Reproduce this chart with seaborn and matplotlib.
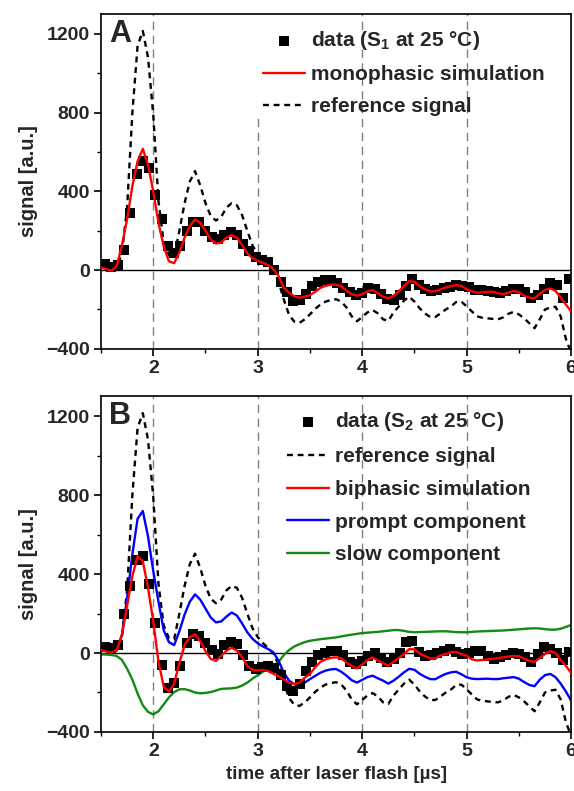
import matplotlib
matplotlib.use("Agg")
import matplotlib.pyplot as plt
import numpy as np
import seaborn as sns
from matplotlib.ticker import MultipleLocator

# time grid of the simulated / reference curves [µs]
t_line = [
    1.50, 1.55, 1.60, 1.65, 1.70, 1.75, 1.80, 1.85, 1.90, 1.95,
    2.00, 2.05, 2.10, 2.15, 2.20, 2.25, 2.30, 2.35, 2.40, 2.45,
    2.50, 2.55, 2.60, 2.65, 2.70, 2.75, 2.80, 2.85, 2.90, 2.95,
    3.00, 3.05, 3.10, 3.15, 3.20, 3.25, 3.30, 3.35, 3.40, 3.45,
    3.50, 3.55, 3.60, 3.65, 3.70, 3.75, 3.80, 3.85, 3.90, 3.95,
    4.00, 4.05, 4.10, 4.15, 4.20, 4.25, 4.30, 4.35, 4.40, 4.45,
    4.50, 4.55, 4.60, 4.65, 4.70, 4.75, 4.80, 4.85, 4.90, 4.95,
    5.00, 5.05, 5.10, 5.15, 5.20, 5.25, 5.30, 5.35, 5.40, 5.45,
    5.50, 5.55, 5.60, 5.65, 5.70, 5.75, 5.80, 5.85, 5.90, 5.95,
    6.00,
]

reference_signal = [
    20, 12, 5, 12, 85, 320, 800, 1140, 1215, 1080,
    790, 350, 140, 75, 70, 200, 340, 450, 503, 430,
    340, 275, 252, 270, 317, 340, 330, 280, 200, 125,
    81, 50, 25, -3, -60, -150, -228, -262, -268, -250,
    -225, -197, -175, -160, -152, -148, -160, -190, -235, -260,
    -238, -215, -203, -220, -250, -258, -215, -185, -155, -135,
    -160, -194, -220, -238, -238, -220, -200, -185, -162, -160,
    -185, -210, -235, -242, -245, -248, -250, -240, -222, -212,
    -225, -245, -270, -295, -250, -200, -190, -186, -235, -350,
    -420,
]

monophasic = [
    14, 5, -3, 20, 125, 260, 427, 553, 616, 535,
    400, 240, 120, 45, 35, 90, 165, 225, 258, 240,
    200, 155, 135, 140, 165, 178, 165, 128, 85, 60,
    47, 38, 25, 5, -30, -90, -115, -133, -140, -135,
    -127, -110, -90, -80, -74, -74, -81, -105, -122, -130,
    -122, -108, -101, -118, -135, -143, -130, -108, -80, -56,
    -60, -80, -98, -108, -108, -98, -88, -82, -76, -80,
    -98, -108, -115, -113, -110, -110, -118, -122, -114, -106,
    -112, -130, -140, -143, -120, -101, -93, -105, -140, -175,
    -211,
]

biphasic = [
    15, 8, 2, 15, 91, 240, 390, 490, 465, 330,
    160, -44, -170, -196, -155, -50, 40, 80, 95, 60,
    10, -30, -40, -15, 12, 27, 12, -20, -65, -85,
    -88, -86, -92, -105, -118, -135, -150, -157, -150, -125,
    -106, -72, -45, -32, -24, -22, -27, -48, -66, -78,
    -58, -36, -22, -38, -52, -64, -45, -25, -5, 20,
    18, -2, -15, -28, -28, -12, -5, 5, 5, -5,
    -14, -32, -38, -35, -32, -30, -26, -22, -18, -15,
    -16, -28, -40, -45, -25, -5, 10, 0, -35, -65,
    -101,
]

prompt = [
    15, 10, 7, 15, 91, 280, 500, 680, 719, 590,
    415, 260, 115, 55, 40, 110, 195, 260, 297, 270,
    225, 180, 155, 160, 184, 205, 190, 150, 105, 72,
    49, 33, 20, 3, -40, -100, -140, -158, -160, -150,
    -132, -116, -100, -89, -83, -81, -95, -115, -138, -150,
    -136, -122, -115, -128, -140, -155, -140, -120, -98, -80,
    -85, -105, -120, -132, -133, -118, -106, -98, -95, -108,
    -123, -130, -132, -131, -130, -132, -132, -128, -125, -122,
    -130, -147, -162, -168, -135, -112, -106, -122, -155, -195,
    -241,
]

slow = [
    -7, -8, -10, -15, -35, -80, -135, -205, -265, -298,
    -311, -295, -260, -225, -198, -184, -183, -190, -200, -204,
    -202, -198, -190, -182, -180, -179, -175, -165, -150, -130,
    -112, -95, -80, -65, -45, -10, 15, 33, 45, 55,
    62, 66, 70, 73, 76, 79, 84, 89, 93, 97,
    101, 103, 105, 107, 110, 113, 116, 116, 112, 107,
    105, 106, 107, 108, 109, 110, 110, 108, 106, 105,
    105, 107, 109, 110, 111, 112, 113, 114, 116, 118,
    120, 122, 124, 125, 124, 121, 118, 118, 123, 132,
    142,
]

# sampling times of the measured points [µs]
t_data = [
    1.54, 1.60, 1.66, 1.72, 1.78, 1.84, 1.90, 1.96, 2.02, 2.08,
    2.14, 2.20, 2.26, 2.32, 2.38, 2.44, 2.50, 2.56, 2.62, 2.68,
    2.74, 2.80, 2.86, 2.92, 2.98, 3.04, 3.10, 3.16, 3.22, 3.28,
    3.34, 3.40, 3.46, 3.52, 3.58, 3.64, 3.70, 3.76, 3.82, 3.88,
    3.94, 4.00, 4.06, 4.12, 4.18, 4.24, 4.30, 4.36, 4.42, 4.48,
    4.54, 4.60, 4.66, 4.72, 4.78, 4.84, 4.90, 4.96, 5.02, 5.08,
    5.14, 5.20, 5.26, 5.32, 5.38, 5.44, 5.50, 5.56, 5.62, 5.68,
    5.74, 5.80, 5.86, 5.92, 5.98,
]

data_s1 = [
    30, 15, 25, 100, 290, 490, 555, 520, 380, 260,
    120, 85, 120, 200, 245, 245, 200, 170, 160, 180,
    195, 180, 135, 95, 65, 50, 40, 0, -60, -110,
    -155, -150, -120, -80, -60, -48, -50, -65, -90, -112,
    -127, -115, -90, -95, -120, -145, -150, -125, -80, -45,
    -75, -95, -108, -100, -90, -84, -76, -80, -88, -100,
    -102, -105, -112, -118, -108, -98, -95, -112, -140, -125,
    -95, -68, -78, -140, -45,
]

data_s2 = [
    32, 25, 40, 200, 340, 470, 490, 350, 150, -60,
    -175, -150, -64, 50, 96, 85, 50, 15, -5, 40,
    54, 45, -10, -65, -80, -70, -64, -75, -110, -165,
    -191, -157, -89, -45, -10, 0, 8, 10, -10, -45,
    -55, -40, -15, 0, -25, -45, -32, 0, 54, 62,
    5, -15, -10, 0, 8, 20, 3, -5, 0, 10,
    8, -16, -28, -22, -8, 0, -5, -22, -47, -5,
    28, 22, 0, -35, 3,
]

sns.set_theme(style="ticks")
plt.rcParams["font.family"] = ["Liberation Sans", "DejaVu Sans"]
plt.rcParams["font.weight"] = "bold"
plt.rcParams["mathtext.fontset"] = "custom"
plt.rcParams["mathtext.rm"] = "Liberation Sans:bold"
plt.rcParams["mathtext.bf"] = "Liberation Sans:bold"
plt.rcParams["mathtext.default"] = "bf"

fig = plt.figure(figsize=(5.74, 7.91), dpi=100)
ax_a = fig.add_axes([0.176, 0.559, 0.819, 0.423])
ax_b = fig.add_axes([0.176, 0.0746, 0.819, 0.4244])

RED, BLUE, GREEN = "#ff0000", "#0000ff", "#138a13"
ref_style = dict(color="black", lw=1.7, dashes=(2.5, 2.0))
SQ = 52


def style_axes(ax, label):
    ax.set_xlim(1.5, 6.0)
    ax.set_ylim(-400, 1300)
    ax.xaxis.set_major_locator(MultipleLocator(1))
    ax.xaxis.set_minor_locator(MultipleLocator(0.5))
    ax.yaxis.set_major_locator(MultipleLocator(400))
    ax.yaxis.set_minor_locator(MultipleLocator(200))
    ax.tick_params(which="major", direction="out", length=5, width=1.2,
                   labelsize=14, pad=3, color="black")
    ax.tick_params(which="minor", direction="out", length=3, width=1.0, color="black")
    for s in ax.spines.values():
        s.set_linewidth(1.2)
        s.set_color("black")
    ax.axhline(0, color="black", lw=1.0, zorder=1)
    ax.set_ylabel("signal [a.u.]", fontsize=14.5, fontweight="bold", labelpad=6)
    ax.set_xlabel("")
    ax.text(0.018, 0.985, label, transform=ax.transAxes, va="top", ha="left",
            fontsize=22, fontweight="bold")


# panel A
for xv in [2, 4, 5]:
    ax_a.axvline(xv, color="#808080", lw=1.0, dashes=(6, 4), zorder=0)
ax_a.axvline(3, ymax=0.69, color="#808080", lw=1.0, dashes=(6, 4), zorder=0)
sns.lineplot(x=t_line, y=reference_signal, ax=ax_a, label="reference signal", **ref_style)
sns.scatterplot(x=t_data, y=data_s1, ax=ax_a, marker="s", s=SQ, color="black",
                edgecolor="none", label="data (S$_1$ at 25 °C)", zorder=3)
sns.lineplot(x=t_line, y=monophasic, ax=ax_a, color=RED, lw=1.7,
             label="monophasic simulation", zorder=4)
style_axes(ax_a, "A")
h, l = ax_a.get_legend_handles_labels()
order = [l.index("data (S$_1$ at 25 °C)"), l.index("monophasic simulation"),
         l.index("reference signal")]
ax_a.legend([h[i] for i in order], [l[i] for i in order], loc="upper left",
            bbox_to_anchor=(0.345, 0.955), frameon=False, fontsize=15,
            handlelength=2.0, handletextpad=0.3, labelspacing=0.62,
            borderpad=0, borderaxespad=0)

# panel B
for xv in [2, 3, 4, 5]:
    ax_b.axvline(xv, color="#808080", lw=1.0, dashes=(6, 4), zorder=0)
sns.lineplot(x=t_line, y=reference_signal, ax=ax_b, label="reference signal", **ref_style)
sns.lineplot(x=t_line, y=slow, ax=ax_b, color=GREEN, lw=1.7, label="slow component")
sns.lineplot(x=t_line, y=prompt, ax=ax_b, color=BLUE, lw=1.7, label="prompt component")
sns.scatterplot(x=t_data, y=data_s2, ax=ax_b, marker="s", s=SQ, color="black",
                edgecolor="none", label="data (S$_2$ at 25 °C)", zorder=3)
sns.lineplot(x=t_line, y=biphasic, ax=ax_b, color=RED, lw=1.7,
             label="biphasic simulation", zorder=4)
style_axes(ax_b, "B")
ax_b.set_xlabel("time after laser flash [µs]", fontsize=13.5, fontweight="bold", labelpad=4)
h, l = ax_b.get_legend_handles_labels()
names = ["data (S$_2$ at 25 °C)", "reference signal", "biphasic simulation",
         "prompt component", "slow component"]
order = [l.index(n) for n in names]
ax_b.legend([h[i] for i in order], [l[i] for i in order], loc="upper left",
            bbox_to_anchor=(0.396, 0.958), frameon=False, fontsize=15,
            handlelength=2.0, handletextpad=0.3, labelspacing=0.66,
            borderpad=0, borderaxespad=0)

fig.savefig("out.png", dpi=100)
